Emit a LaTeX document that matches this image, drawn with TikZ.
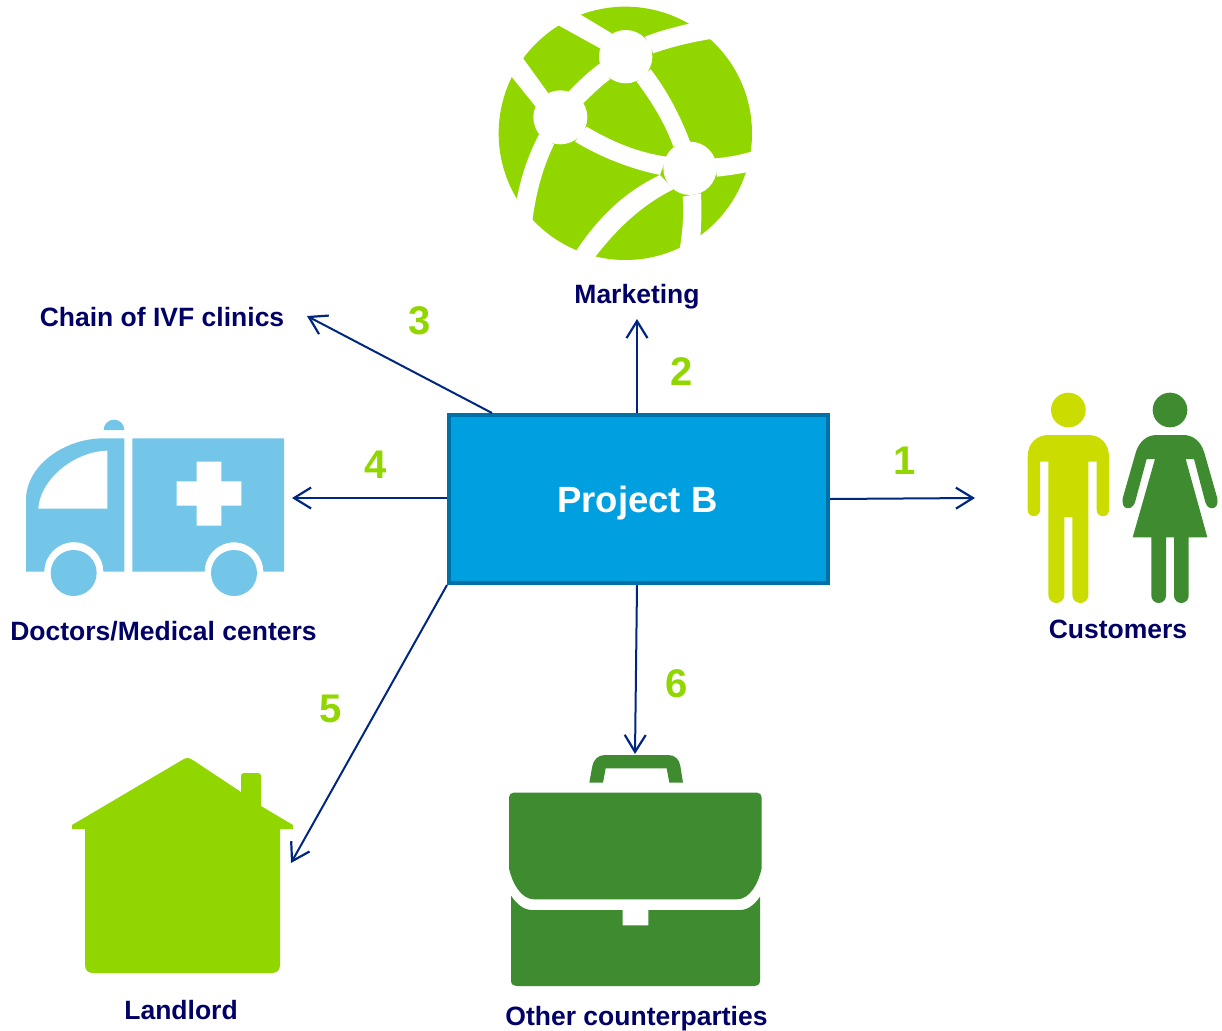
\documentclass[tikz,border=0pt]{standalone}
\usepackage{fontspec}
\setmainfont{Liberation Sans}
\usetikzlibrary{arrows.meta}
\definecolor{lime}{HTML}{92D600}
\definecolor{dgreen}{HTML}{3F8B2F}
\definecolor{yel}{HTML}{CBDD00}
\definecolor{sky}{HTML}{73C6E7}
\definecolor{boxfill}{HTML}{009FE0}
\definecolor{boxline}{HTML}{0071A6}
\definecolor{arrowc}{HTML}{00277F}
\definecolor{labelc}{HTML}{000066}
\tikzset{
 x=1pt,y=-1pt,
 lab/.style={font=\fontsize{26.5}{30}\selectfont\bfseries,text=labelc,inner sep=0pt},
 num/.style={font=\fontsize{40}{44}\selectfont\bfseries,text=lime,inner sep=0pt},
 conn/.style={draw=arrowc,line width=2pt,-{Straight Barb[length=17pt,width=21pt,line width=2.2pt]}},
 gap/.style={fill=white},
}
\begin{document}
\begin{tikzpicture}
\useasboundingbox (0,0) rectangle (1222,1030);
% globe
\begin{scope}[shift={(480,0)},scale=1/3]
\fill[lime] (436,400) circle[radius=380];
\fill[gap] (295,40) -- (395,100) -- (360,145) -- (228,72) -- cycle;
\fill[gap] (495,110) .. controls (540,92) and (590,80) .. (640,68) -- (705,115) .. controls (640,125) and (575,140) .. (520,160) -- cycle;
\fill[gap] (360,190) .. controls (325,215) and (295,245) .. (265,275) -- (310,310) .. controls (335,285) and (360,260) .. (390,238) -- cycle;
\fill[gap] (470,245) .. controls (515,305) and (555,370) .. (580,440) -- (630,425) .. controls (600,345) and (560,270) .. (512,208) -- cycle;
\fill[gap] (320,380) .. controls (395,425) and (475,458) .. (560,470) -- (540,525) .. controls (445,505) and (360,470) .. (285,425) -- cycle;
\fill[gap] (120,162) -- (205,280) -- (167,320) -- (85,218) -- cycle;
\fill[gap] (177,403) .. controls (145,465) and (122,530) .. (108,610) -- (155,680) .. controls (165,590) and (185,510) .. (222,433) -- cycle;
\fill[gap] (705,475) .. controls (745,472) and (785,464) .. (825,452) -- (825,512) .. controls (785,520) and (750,526) .. (710,530) -- cycle;
\fill[gap] (608,590) .. controls (612,645) and (608,695) .. (597,760) -- (660,720) .. controls (665,670) and (665,625) .. (663,580) -- cycle;
\fill[gap] (540,525) .. controls (435,575) and (355,650) .. (280,765) -- (335,785) .. controls (405,690) and (485,615) .. (580,568) -- cycle;
\fill[gap] (437,170) circle[radius=80];
\fill[gap] (241,352) circle[radius=81];
\fill[gap] (630,505) circle[radius=80];
\end{scope}
% ambulance
\begin{scope}[shift={(10,410)},scale=1/3]
\fill[sky] (48,485) -- (48,270) .. controls (48,165) and (165,85) .. (280,85) -- (343,85) -- (343,485) -- (280,485) arc[start angle=0,end angle=-180,radius=88.5] -- cycle;
\fill[white] (85,296) .. controls (90,210) and (190,125) .. (292,122) -- (292,296) -- cycle;
\fill[sky] (367,85) -- (822,85) -- (822,485) -- (760,485) arc[start angle=0,end angle=-180,radius=88] -- (367,485) -- cycle;
\fill[white] (560,155) -- (634,155) -- (634,214) -- (694,214) -- (694,287) -- (634,287) -- (634,347) -- (560,347) -- (560,287) -- (500,287) -- (500,214) -- (560,214) -- cycle;
\fill[sky] (191,489) circle[radius=69];
\fill[sky] (672,489) circle[radius=69];
\fill[sky] (281,60) arc[start angle=180,end angle=360,radius=31] -- cycle;
\end{scope}
% people
\begin{scope}[shift={(1010,385)},scale=1/3]
\fill[yel] (175,75) circle[radius=52];
\fill[yel] (53,215) .. controls (53,175) and (80,150) .. (115,150) -- (235,150) .. controls (270,150) and (297,175) .. (297,215) -- (297,375) arc[start angle=0,end angle=180,radius=18.5] -- (260,230) -- (235,230) -- (235,630) arc[start angle=0,end angle=180,radius=24] -- (187,396) -- (163,396) -- (163,630) arc[start angle=0,end angle=180,radius=24] -- (115,230) -- (90,230) -- (90,375) arc[start angle=0,end angle=180,radius=18.5] -- cycle;
\fill[dgreen] (480,75) circle[radius=52];
\fill[dgreen] (440,150) -- (520,150) .. controls (550,150) and (572,170) .. (582,200) -- (622,340) .. controls (628,375) and (595,380) .. (586,352) -- (552,222) -- (527,222) -- (592,457) -- (536,457) -- (536,632) arc[start angle=0,end angle=180,radius=22] -- (492,457) -- (468,457) -- (468,632) arc[start angle=0,end angle=180,radius=22] -- (424,457) -- (368,457) -- (435,222) -- (410,222) -- (375,352) .. controls (365,380) and (332,375) .. (338,340) -- (378,200) .. controls (388,170) and (410,150) .. (440,150) -- cycle;
\end{scope}
% briefcase
\begin{scope}[shift={(495,740)},scale=1/3]
\fill[dgreen] (283,128) -- (292,78) .. controls (296,58) and (310,45) .. (330,45) -- (520,45) .. controls (540,45) and (553,58) .. (556,78) -- (564,128) -- (523,128) -- (515,85) -- (332,85) -- (324,128) -- cycle;
\fill[dgreen] (42,172) .. controls (42,164) and (48,158) .. (56,158) -- (786,158) .. controls (794,158) and (800,164) .. (800,172) -- (800,385) .. controls (790,430) and (765,478) .. (725,478) -- (118,478) .. controls (78,478) and (52,430) .. (42,385) -- cycle;
\fill[dgreen] (48,467) .. controls (65,492) and (85,510) .. (112,510) -- (383,510) -- (383,556) -- (460,556) -- (460,510) -- (735,510) .. controls (760,510) and (780,492) .. (795,470) -- (795,722) .. controls (795,732) and (788,738) .. (780,738) -- (64,738) .. controls (55,738) and (48,732) .. (48,722) -- cycle;
\end{scope}
% house
\fill[lime] (72,825) -- (183,759.5) .. controls (186,757.5) and (189,757.5) .. (192,759.5) -- (241,792) -- (241,776) .. controls (241,774) and (242,773) .. (244,773) -- (258,773) .. controls (260,773) and (261,774) .. (261,776) -- (261,806) -- (293,825) -- (293,829) -- (280,829) -- (280,965) .. controls (280,970) and (277,973) .. (272,973) -- (93,973) .. controls (88,973) and (85,970) .. (85,965) -- (85,829) -- (72,829) -- cycle;
% connectors and box
\node[draw=boxline,fill=boxfill,line width=4pt,minimum width=379pt,minimum height=168pt,inner sep=0pt] (box) at (638.5,499) {};
\node[inner sep=0pt,text=white,font=\fontsize{36.5}{40}\selectfont\bfseries] (boxtext) at (637.5,503) {Project B};
\coordinate (c1) at (975,498);
\coordinate (c2) at (637,319);
\coordinate (c3) at (307,316);
\coordinate (c4) at (292,498);
\coordinate (c5) at (291,863);
\coordinate (c6) at (635,754);
\coordinate (s3) at (492,413);
\coordinate (s6) at (637,585);
\draw[conn] (box.east) -- (c1);
\draw[conn] (c2 |- box.north) -- (c2);
\draw[conn] (s3) -- (c3);
\draw[conn] (c4 -| box.west) -- (c4);
\draw[conn] (box.south west) -- (c5);
\draw[conn] (s6) -- (c6);
% labels
\node[lab] (lmark) at (637,297) {Marketing};
\node[lab] (lchain) at (162,317) {Chain of IVF clinics};
\node[lab] (ldoc) at (163.5,631) {Doctors/Medical centers};
\node[lab] (lcust) at (1118,629) {Customers};
\node[lab] (lland) at (181,1010) {Landlord};
\node[lab] (lother) at (636.5,1019) {Other counterparties};
\node[num] (n1) at (905,461) {1};
\node[num] (n2) at (682,372) {2};
\node[num] (n3) at (420,321) {3};
\node[num] (n4) at (376,465) {4};
\node[num] (n5) at (331,709) {5};
\node[num] (n6) at (677,684) {6};
\end{tikzpicture}
\end{document}
